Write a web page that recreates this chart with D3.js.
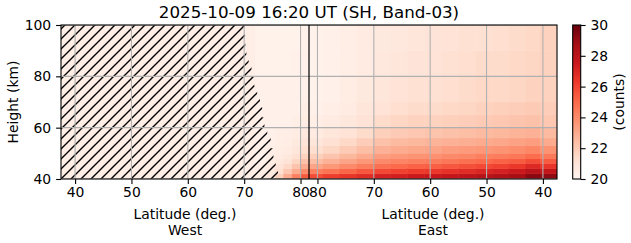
<!DOCTYPE html>
<html>
<head>
<meta charset="utf-8">
<script src="https://cdn.jsdelivr.net/npm/d3@7"></script>
<style>
  body { margin: 0; background: #fff; }
  text { font-family: "DejaVu Sans", sans-serif; fill: #000; }
  .tick text { font-size: 13.9px; font-family: "DejaVu Sans", sans-serif; }
</style>
</head>
<body>
<div id="chart"></div>
<script>
// chart values
var heightEdges = [40, 42, 44, 46, 48, 50, 53, 56, 60, 65, 70, 80, 90, 100];

// west side latitude bands (deg), left to right
var westLatEdges = [37.5, 72, 74, 75.5, 77, 78.5, 80, 81.5];
// east side latitude bands (deg), left to right
var eastLatEdges = [81.5, 79, 76, 73, 70, 67, 64, 61, 58, 55, 52, 49, 46, 43, 40.5, 37.5];

// counts per column, bottom row (40 km) first
var westCounts = [
  [20.4, 20.4, 20.4, 20.4, 20.4, 20.4, 20.4, 20.4, 20.4, 20.4, 20.4, 20.4, 20.4],
  [20.5, 20.4, 20.4, 20.3, 20.3, 20.3, 20.3, 20.3, 20.3, 20.3, 20.3, 20.2, 20.2],
  [20.9, 20.7, 20.6, 20.5, 20.4, 20.4, 20.3, 20.3, 20.3, 20.3, 20.3, 20.2, 20.2],
  [21.8, 21.3, 21.0, 20.8, 20.6, 20.5, 20.4, 20.4, 20.3, 20.3, 20.3, 20.2, 20.2],
  [23.0, 22.1, 21.5, 21.1, 20.8, 20.6, 20.5, 20.4, 20.3, 20.3, 20.3, 20.2, 20.2],
  [24.3, 23.0, 22.2, 21.6, 21.2, 20.9, 20.7, 20.5, 20.4, 20.3, 20.3, 20.3, 20.2],
  [25.4, 24.0, 23.0, 22.3, 21.7, 21.3, 21.0, 20.7, 20.5, 20.4, 20.3, 20.3, 20.2]
];
var eastCounts = [
  [25.8, 24.3, 23.2, 22.4, 21.8, 21.3, 20.9, 20.6, 20.4, 20.3, 20.2, 20.2, 20.2],
  [26.2, 24.7, 23.6, 22.8, 22.2, 21.6, 21.2, 20.9, 20.6, 20.4, 20.3, 20.3, 20.3],
  [26.5, 25.1, 24.0, 23.2, 22.6, 22.0, 21.5, 21.1, 20.8, 20.6, 20.5, 20.4, 20.4],
  [26.8, 25.5, 24.4, 23.6, 23.0, 22.4, 21.9, 21.4, 21.1, 20.9, 20.7, 20.6, 20.6],
  [27.2, 25.9, 24.8, 24.0, 23.4, 22.8, 22.3, 21.8, 21.4, 21.1, 20.9, 20.8, 20.7],
  [27.3, 26.1, 25.0, 24.2, 23.6, 23.0, 22.5, 22.0, 21.6, 21.3, 21.1, 20.9, 20.8],
  [27.5, 26.3, 25.2, 24.3, 23.7, 23.1, 22.6, 22.1, 21.7, 21.4, 21.2, 21.0, 20.9],
  [27.6, 26.4, 25.3, 24.4, 23.8, 23.2, 22.7, 22.2, 21.7, 21.4, 21.2, 21.1, 21.0],
  [27.8, 26.6, 25.5, 24.6, 24.0, 23.4, 22.8, 22.3, 21.8, 21.5, 21.3, 21.2, 21.1],
  [28.0, 26.8, 25.7, 24.8, 24.1, 23.5, 22.9, 22.4, 21.9, 21.6, 21.4, 21.3, 21.2],
  [28.2, 27.0, 25.9, 25.0, 24.3, 23.6, 23.0, 22.5, 22.0, 21.7, 21.5, 21.4, 21.2],
  [28.4, 27.2, 26.1, 25.2, 24.4, 23.7, 23.1, 22.6, 22.1, 21.8, 21.5, 21.4, 21.3],
  [28.7, 27.5, 26.4, 25.4, 24.6, 23.9, 23.3, 22.7, 22.2, 21.9, 21.6, 21.5, 21.4],
  [29.3, 28.1, 26.9, 25.8, 24.9, 24.1, 23.4, 22.8, 22.3, 22.0, 21.7, 21.6, 21.5],
  [29.2, 27.8, 26.5, 25.4, 24.5, 23.7, 23.0, 22.5, 22.1, 21.9, 21.7, 21.7, 21.7]
];

// hatched (no data) region on the west side: right edge latitude per height band
var hatchHeights = [40, 44, 48, 52, 56, 60, 64, 68, 72, 76, 80, 84, 88, 92, 96, 100];
var hatchLats = [76.0, 75.6, 75.2, 74.7, 74.1, 73.6, 73.2, 72.8, 72.3, 71.8, 71.3, 70.8, 70.4, 70.2, 70.1];

var latTicks = [40, 50, 60, 70, 80];
var heightTicks = [40, 60, 80, 100];
var cbarTicks = [20, 22, 24, 26, 28, 30];

// layout
var svgWidth = 631, svgHeight = 243;
var plot = { left: 61, right: 557, top: 25, bottom: 179 };
var sepLat = 81.5;  // both sides meet here

var svg = d3.select("#chart").append("svg")
  .attr("width", svgWidth)
  .attr("height", svgHeight);

// x scales: one coordinate for the whole axis, west and east mirrored
var xWest = d3.scaleLinear().domain([37.5, 125.5]).range([plot.left, plot.right]);
var xEast = d3.scaleLinear().domain([2 * sepLat - 37.5, 2 * sepLat - 125.5]).range([plot.left, plot.right]);
var y = d3.scaleLinear().domain([40, 100]).range([plot.bottom, plot.top]);

// matplotlib style Reds (linear between the 9 brewer colours)
var color = d3.scaleLinear()
  .domain(d3.range(9).map(i => 20 + i * 10 / 8))
  .range(d3.schemeReds[9])
  .clamp(true);

var defs = svg.append("defs");
defs.append("clipPath").attr("id", "plotClip")
  .append("rect")
  .attr("x", plot.left).attr("y", plot.top)
  .attr("width", plot.right - plot.left).attr("height", plot.bottom - plot.top);

var h = 10;
var pat = defs.append("pattern")
  .attr("id", "hatch")
  .attr("patternUnits", "userSpaceOnUse")
  .attr("width", h).attr("height", h);
pat.append("path")
  .attr("d", `M0,${h} L${h},0 M${-h / 4},${h / 4} L${h / 4},${-h / 4} M${h * 3 / 4},${h * 5 / 4} L${h * 5 / 4},${h * 3 / 4}`)
  .attr("stroke", "#000")
  .attr("stroke-width", 1.4);

var chart = svg.append("g").attr("clip-path", "url(#plotClip)");

// build cells
var cells = [];
westCounts.forEach(function(col, i) {
  col.forEach(function(v, j) {
    cells.push({ x0: xWest(westLatEdges[i]), x1: xWest(westLatEdges[i + 1]),
      h0: heightEdges[j], h1: heightEdges[j + 1], v: v });
  });
});
eastCounts.forEach(function(col, i) {
  col.forEach(function(v, j) {
    cells.push({ x0: xEast(eastLatEdges[i]), x1: xEast(eastLatEdges[i + 1]),
      h0: heightEdges[j], h1: heightEdges[j + 1], v: v });
  });
});

chart.selectAll("rect.cell").data(cells).enter()
  .append("rect")
  .attr("class", "cell")
  .attr("x", d => Math.min(d.x0, d.x1))
  .attr("y", d => y(d.h1))
  .attr("width", d => Math.abs(d.x1 - d.x0))
  .attr("height", d => y(d.h0) - y(d.h1))
  .attr("fill", d => color(d.v))
  .attr("stroke", d => color(d.v))
  .attr("stroke-width", 0.5);

// hatch polygon (staircase)
var hatchPts = [[xWest(37.5), y(40)]];
hatchLats.forEach(function(lat, i) {
  hatchPts.push([xWest(lat), y(hatchHeights[i])]);
  hatchPts.push([xWest(lat), y(hatchHeights[i + 1])]);
});
hatchPts.push([xWest(37.5), y(100)]);
chart.append("path")
  .attr("d", d3.line()(hatchPts) + "Z")
  .attr("fill", "url(#hatch)");

// grid
var gridColor = "#b0b0b0";
chart.selectAll("line.hgrid").data(heightTicks).enter()
  .append("line")
  .attr("x1", plot.left).attr("x2", plot.right)
  .attr("y1", d => y(d)).attr("y2", d => y(d))
  .attr("stroke", gridColor).attr("stroke-width", 1.1);
chart.selectAll("line.wgrid").data(latTicks).enter()
  .append("line")
  .attr("x1", d => xWest(d)).attr("x2", d => xWest(d))
  .attr("y1", plot.top).attr("y2", plot.bottom)
  .attr("stroke", gridColor).attr("stroke-width", 1.1);
chart.selectAll("line.egrid").data(latTicks).enter()
  .append("line")
  .attr("x1", d => xEast(d)).attr("x2", d => xEast(d))
  .attr("y1", plot.top).attr("y2", plot.bottom)
  .attr("stroke", gridColor).attr("stroke-width", 1.1);

// separator between west and east
chart.append("line")
  .attr("x1", xWest(sepLat)).attr("x2", xWest(sepLat))
  .attr("y1", plot.top).attr("y2", plot.bottom)
  .attr("stroke", "#000").attr("stroke-width", 1.2);

// frame
svg.append("rect")
  .attr("x", plot.left).attr("y", plot.top)
  .attr("width", plot.right - plot.left).attr("height", plot.bottom - plot.top)
  .attr("fill", "none").attr("stroke", "#000").attr("stroke-width", 1.1);

// axes
function styleAxis(g) {
  g.select(".domain").remove();
  g.selectAll(".tick line").attr("stroke-width", 1.1);
  g.selectAll(".tick text").attr("fill", "#000");
}
svg.append("g")
  .attr("transform", `translate(0,${plot.bottom})`)
  .call(d3.axisBottom(xWest).tickValues(latTicks).tickSize(4.9).tickPadding(3.5).tickFormat(d3.format("d")))
  .call(styleAxis);
svg.append("g")
  .attr("transform", `translate(0,${plot.bottom})`)
  .call(d3.axisBottom(xEast).tickValues(latTicks).tickSize(4.9).tickPadding(3.5).tickFormat(d3.format("d")))
  .call(styleAxis);
svg.append("g")
  .attr("transform", `translate(${plot.left},0)`)
  .call(d3.axisLeft(y).tickValues(heightTicks).tickSize(4.9).tickPadding(4.9))
  .call(styleAxis);

// axis labels
var westMid = (plot.left + xWest(sepLat)) / 2;
var eastMid = (xWest(sepLat) + plot.right) / 2;
[[westMid, "West"], [eastMid, "East"]].forEach(function(d) {
  svg.append("text").attr("x", d[0]).attr("y", 219).attr("text-anchor", "middle")
    .style("font-size", "13.9px").text("Latitude (deg.)");
  svg.append("text").attr("x", d[0]).attr("y", 234.5).attr("text-anchor", "middle")
    .style("font-size", "13.9px").text(d[1]);
});
svg.append("text")
  .attr("transform", `translate(17.5,${(plot.top + plot.bottom) / 2}) rotate(-90)`)
  .attr("text-anchor", "middle")
  .style("font-size", "13.9px")
  .text("Height (km)");

// title
svg.append("text")
  .attr("x", (plot.left + plot.right) / 2).attr("y", 17.5)
  .attr("text-anchor", "middle")
  .style("font-size", "16.7px")
  .text("2025-10-09 16:20 UT (SH, Band-03)");

// colorbar
var cbar = { left: 572.7, width: 8 };
var cy = d3.scaleLinear().domain([20, 30]).range([plot.bottom, plot.top]);
var grad = defs.append("linearGradient").attr("id", "cbarGrad")
  .attr("x1", 0).attr("y1", 1).attr("x2", 0).attr("y2", 0);
grad.selectAll("stop").data(d3.range(0, 1.0001, 0.125)).enter()
  .append("stop")
  .attr("offset", d => d)
  .attr("stop-color", d => color(20 + d * 10));
svg.append("rect")
  .attr("x", cbar.left).attr("y", plot.top)
  .attr("width", cbar.width).attr("height", plot.bottom - plot.top)
  .attr("fill", "url(#cbarGrad)")
  .attr("stroke", "#000").attr("stroke-width", 1.1);
svg.append("g")
  .attr("transform", `translate(${cbar.left + cbar.width},0)`)
  .call(d3.axisRight(cy).tickValues(cbarTicks).tickSize(4.9).tickPadding(4.9))
  .call(styleAxis);
svg.append("text")
  .attr("transform", `translate(624,${(plot.top + plot.bottom) / 2}) rotate(-90)`)
  .attr("text-anchor", "middle")
  .style("font-size", "13.9px")
  .text("(counts)");
</script>
</body>
</html>
